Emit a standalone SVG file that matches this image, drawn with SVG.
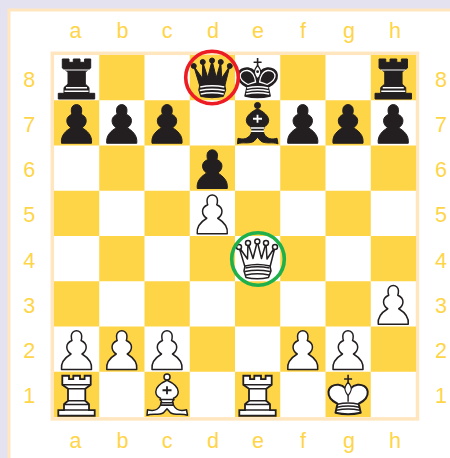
<svg xmlns="http://www.w3.org/2000/svg" width="450" height="458" viewBox="0 0 450 458">
<style>
.y{fill:#FFD548}
.l{font-family:"Liberation Sans",Arial,sans-serif;font-size:21.5px;fill:#FFD548;text-anchor:middle}
.bk{fill:#231F20;stroke:#231F20;stroke-width:1;stroke-linejoin:round}
.wh{fill:#fff;stroke:#231F20;stroke-width:1.5;stroke-linejoin:round}
.wr{fill:#fff;stroke:#231F20;stroke-width:1.8;stroke-linejoin:miter}
.sw{fill:none;stroke:#fff;stroke-width:1.5;stroke-linecap:butt}
.sd{fill:none;stroke:#231F20;stroke-width:1.4;stroke-linecap:butt}
.ring{fill:none;stroke-width:3.6}
</style>
<defs>
<path id="pawn" d="M7.500 43C6.500 35 12 30.500 17 27.500C14.500 26 12.800 23.500 12.800 20.500C12.800 17.500 14.500 15.500 18 14C17.300 13 17.300 11 17.300 9.500A5.200 5.200 0 1 1 27.700 9.500C27.700 11 27.700 13 27 14C30.500 15.500 32.200 17.500 32.200 20.500C32.200 23.500 30.500 26 28 27.500C33 30.500 38.500 35 37.500 43Z"/>
<path id="rook" d="M8.300 4H15V7.300H19.300V4H26V7.300H30.600V4H36.700V13L31.300 17V29L35 32.500V38.300H40.700V44H4.300V38.300H10V32.500L14 29V17L8.300 13Z"/>
<g id="qcrown"><path d="M10 31L4 11L12.500 23L13 7L18 22.500L22.300 5.500L26.500 22.500L31 7L32 23L40 11L35 31Z"/><path d="M10 30Q22.300 27 35 30L36 35L33.500 41.500Q22.300 44 11 41.500L9 35Z"/></g>
<g id="qballs"><circle cx="4" cy="11" r="2.500"/><circle cx="13" cy="7" r="2.500"/><circle cx="22.300" cy="5.500" r="2.500"/><circle cx="31" cy="7" r="2.500"/><circle cx="40" cy="11" r="2.500"/></g>
<path id="kbody" d="M12 32C6 29 2.500 25 3 20C3.500 15 8.500 12.500 13 13C16 13.300 18.500 15 20.500 17L22.600 21L24.700 17C26.700 15 29.200 13.300 32.200 13C36.700 12.500 41.700 15 42.200 20C42.700 25 39.200 29 33.200 32L35.200 41Q22.600 44 10 41Z"/>
<path id="kpod" d="M22.600 10.500C20.500 13 19 15.500 19.500 18C20 20.500 21.500 22.500 22.600 24C23.700 22.500 25.200 20.500 25.700 18C26.200 15.500 24.700 13 22.600 10.500Z"/>
<path id="bbody" d="M22.500 8.500C17 11 11.300 15.500 11.300 20C11.300 23.500 13.500 25.500 16 26.500L15.500 28L17 29.500L16 33.500H29L28 29.500L29.500 28L29 26.500C31.500 25.500 33.700 23.500 33.700 20C33.700 15.500 28 11 22.500 8.500Z"/>
<path id="bribbon" d="M3 38C8 39.500 13 39 16 33.500H29C32 39 37 39.500 42 38L43 43.500C37 41.500 31 44 26 41L22.500 37L19 41C14 44 8 41.500 2.500 43.500Z"/>
<g id="pawnB"><use href="#pawn" class="bk"/></g>
<g id="pawnW"><use href="#pawn" class="wh"/></g>
<g id="rookB"><use href="#rook" class="bk"/><path class="sw" style="stroke-width:1" d="M10 15H35"/><path class="sw" d="M12 32.700H33M10.500 36.300H34.500"/></g>
<g id="rookW"><use href="#rook" class="wr"/><path class="sd" d="M8.800 13H36.200M14 17H31.300M14 29H31.300M10 32.700H35M10 38.300H35"/></g>
<g id="queenB"><g class="bk"><use href="#qcrown"/><use href="#qballs"/></g><path class="sw" d="M10.500 32Q22.300 29.500 34.500 32M10 35.500Q22.300 33 35 35.500M11 39Q22.300 36.500 34 39"/></g>
<g id="queenW"><g class="wh"><use href="#qcrown"/><use href="#qballs"/></g><path class="sd" d="M10.500 32Q22.300 29.500 34.500 32M10 35.500Q22.300 33 35 35.500M11 39Q22.300 36.500 34 39"/></g>
<g id="kingB"><path d="M22.600 3V11M18.600 7.300H26.600" fill="none" stroke="#231F20" stroke-width="1.600"/><use href="#kbody" class="bk" style="stroke-width:1.400"/><path d="M20.600 27C20 21 17 16 12.500 15.500C8 15.200 5.200 18 5.200 21C5.200 24.500 9 27.500 13 29.500Q17 28 20.600 27ZM24.600 27C25.200 21 28.200 16 32.700 15.500C37.200 15.200 40 18 40 21C40 24.500 36.200 27.500 32.200 29.500Q28.200 28 24.600 27Z" fill="#231F20" stroke="#fff" stroke-width="1.300"/><use href="#kpod" fill="#fff" stroke="#231F20" stroke-width="1.200"/><circle cx="22.600" cy="16.700" r="1.400" fill="#231F20"/><path class="sw" d="M12 33Q22.600 30.500 33.200 33M11.500 36Q22.600 33.500 33.700 36M11 39Q22.600 36.500 34.200 39"/></g>
<g id="kingW"><path d="M22.600 3V11M18.600 7.300H26.600" fill="none" stroke="#231F20" stroke-width="1.600"/><use href="#kbody" class="wh" style="stroke-width:2"/><use href="#kpod" class="wh" style="stroke-width:1.200"/><path class="sd" d="M22.600 24V30M12 32.500Q22.600 30 33.200 32.500M11.500 35.500Q22.600 33 33.700 35.500M11 38.500Q22.600 36 34.200 38.500"/></g>
<g id="bishopB"><circle class="bk" cx="22.500" cy="5.200" r="3"/><use href="#bbody" class="bk"/><use href="#bribbon" class="bk"/><path d="M22.500 14.500V22.500M18 18.500H27" fill="none" stroke="#fff" stroke-width="1.800"/><path class="sw" d="M15.500 27.700H29.500M16 31H29"/></g>
<g id="bishopW"><circle class="wh" cx="22.500" cy="5.200" r="3"/><use href="#bbody" class="wh"/><use href="#bribbon" class="wh"/><path d="M22.500 14.500V22.500M18 18.500H27" fill="none" stroke="#231F20" stroke-width="1.800"/><path class="sd" d="M15.500 27.700H29.500M16 31H29"/></g>
</defs>
<rect width="450" height="458" fill="#E4E2F0"/>
<rect x="9" y="10" width="460" height="470" fill="#fff" stroke="#FFE6BF" stroke-width="3"/>
<g id="board">
<rect x="52.300" y="53.300" width="365.200" height="365.600" fill="#fff" stroke="#FFE6BF" stroke-width="3.500"/>
<g id="squares">
<rect class="y" x="99.250" y="55" width="45.250" height="45.250"/><rect class="y" x="189.750" y="55" width="45.250" height="45.250"/><rect class="y" x="280.250" y="55" width="45.250" height="45.250"/><rect class="y" x="370.750" y="55" width="45.250" height="45.250"/>
<rect class="y" x="54" y="100.250" width="45.250" height="45.250"/><rect class="y" x="144.500" y="100.250" width="45.250" height="45.250"/><rect class="y" x="235" y="100.250" width="45.250" height="45.250"/><rect class="y" x="325.500" y="100.250" width="45.250" height="45.250"/>
<rect class="y" x="99.250" y="145.500" width="45.250" height="45.250"/><rect class="y" x="189.750" y="145.500" width="45.250" height="45.250"/><rect class="y" x="280.250" y="145.500" width="45.250" height="45.250"/><rect class="y" x="370.750" y="145.500" width="45.250" height="45.250"/>
<rect class="y" x="54" y="190.750" width="45.250" height="45.250"/><rect class="y" x="144.500" y="190.750" width="45.250" height="45.250"/><rect class="y" x="235" y="190.750" width="45.250" height="45.250"/><rect class="y" x="325.500" y="190.750" width="45.250" height="45.250"/>
<rect class="y" x="99.250" y="236" width="45.250" height="45.250"/><rect class="y" x="189.750" y="236" width="45.250" height="45.250"/><rect class="y" x="280.250" y="236" width="45.250" height="45.250"/><rect class="y" x="370.750" y="236" width="45.250" height="45.250"/>
<rect class="y" x="54" y="281.250" width="45.250" height="45.250"/><rect class="y" x="144.500" y="281.250" width="45.250" height="45.250"/><rect class="y" x="235" y="281.250" width="45.250" height="45.250"/><rect class="y" x="325.500" y="281.250" width="45.250" height="45.250"/>
<rect class="y" x="99.250" y="326.500" width="45.250" height="45.250"/><rect class="y" x="189.750" y="326.500" width="45.250" height="45.250"/><rect class="y" x="280.250" y="326.500" width="45.250" height="45.250"/><rect class="y" x="370.750" y="326.500" width="45.250" height="45.250"/>
<rect class="y" x="54" y="371.750" width="45.250" height="45.250"/><rect class="y" x="144.500" y="371.750" width="45.250" height="45.250"/><rect class="y" x="235" y="371.750" width="45.250" height="45.250"/><rect class="y" x="325.500" y="371.750" width="45.250" height="45.250"/>
</g>
</g>
<g id="labels">
<text class="l" x="75.500" y="38.300">a</text><text class="l" x="122.500" y="38.300">b</text><text class="l" x="167" y="38.300">c</text><text class="l" x="213" y="38.300">d</text><text class="l" x="258" y="38.300">e</text><text class="l" x="303" y="38.300">f</text><text class="l" x="349" y="38.300">g</text><text class="l" x="395" y="38.300">h</text>
<text class="l" x="75.500" y="447.500">a</text><text class="l" x="122.500" y="447.500">b</text><text class="l" x="167" y="447.500">c</text><text class="l" x="213" y="447.500">d</text><text class="l" x="258" y="447.500">e</text><text class="l" x="303" y="447.500">f</text><text class="l" x="349" y="447.500">g</text><text class="l" x="395" y="447.500">h</text>
<text class="l" x="29.300" y="86.700">8</text><text class="l" x="29.300" y="131.900">7</text><text class="l" x="29.300" y="177.100">6</text><text class="l" x="29.300" y="222.300">5</text><text class="l" x="29.300" y="267.500">4</text><text class="l" x="29.300" y="312.700">3</text><text class="l" x="29.300" y="357.900">2</text><text class="l" x="29.300" y="402.700">1</text>
<text class="l" x="441" y="86.700">8</text><text class="l" x="441" y="131.900">7</text><text class="l" x="441" y="177.100">6</text><text class="l" x="441" y="222.300">5</text><text class="l" x="441" y="267.500">4</text><text class="l" x="441" y="312.700">3</text><text class="l" x="441" y="357.900">2</text><text class="l" x="441" y="402.700">1</text>
</g>
<g id="pieces">
<use id="a8" href="#rookB" x="54" y="55"/><use id="d8" href="#queenB" x="189.750" y="55"/><use id="e8" href="#kingB" x="235" y="55"/><use id="h8" href="#rookB" x="370.750" y="55"/>
<use id="a7" href="#pawnB" x="54" y="100.250"/><use id="b7" href="#pawnB" x="99.250" y="100.250"/><use id="c7" href="#pawnB" x="144.500" y="100.250"/><use id="e7" href="#bishopB" x="235" y="100.250"/><use id="f7" href="#pawnB" x="280.250" y="100.250"/><use id="g7" href="#pawnB" x="325.500" y="100.250"/><use id="h7" href="#pawnB" x="370.750" y="100.250"/>
<use id="d6" href="#pawnB" x="189.750" y="145.500"/>
<use id="d5" href="#pawnW" x="189.750" y="190.750"/>
<use id="e4" href="#queenW" x="235" y="236"/>
<use id="h3" href="#pawnW" x="370.750" y="281.250"/>
<use id="a2" href="#pawnW" x="54" y="326.500"/><use id="b2" href="#pawnW" x="99.250" y="326.500"/><use id="c2" href="#pawnW" x="144.500" y="326.500"/><use id="f2" href="#pawnW" x="280.250" y="326.500"/><use id="g2" href="#pawnW" x="325.500" y="326.500"/>
<use id="a1" href="#rookW" x="54" y="371.750"/><use id="c1" href="#bishopW" x="144.500" y="371.750"/><use id="e1" href="#rookW" x="235" y="371.750"/><use id="g1" href="#kingW" x="325.500" y="371.750"/>
</g>
<g id="highlights">
<circle class="ring" cx="212" cy="77.500" r="26.300" stroke="#ED1C24"/>
<circle class="ring" cx="258" cy="259" r="26.300" stroke="#1FB04C"/>
</g>
</svg>
